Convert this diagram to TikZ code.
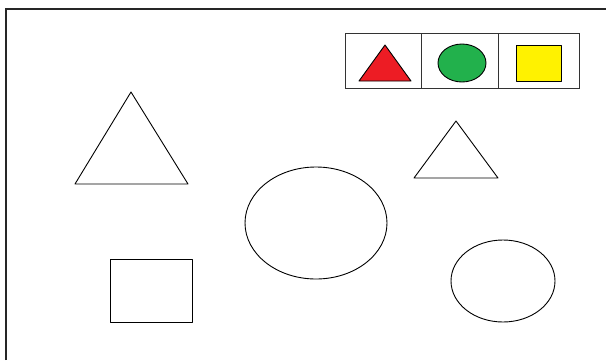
\documentclass[tikz,border=0pt]{standalone}
\definecolor{paintred}{RGB}{237,28,36}
\definecolor{paintgreen}{RGB}{34,177,76}
\definecolor{paintyellow}{RGB}{255,242,0}
\tikzset{
  outline/.style={draw=black, line width=0.9pt, line join=round},
  frameline/.style={draw=black!85, line width=2pt},
  toolbox/.style={draw=black!80, line width=0.9pt}
}
\begin{document}
\begin{tikzpicture}[x=1pt,y=-1pt]
\useasboundingbox (0,0) rectangle (606,360);
\fill[white] (0,0) rectangle (606,360);
% frame (left and top edges only)
\draw[frameline] (6,360) -- (6,9) -- (606,9);
% toolbar
\draw[toolbox] (345,33) rectangle (579,88);
\draw[toolbox] (421,33) -- (421,88);
\draw[toolbox] (498,33) -- (498,88);
\fill[paintred, outline] (385,45) -- (411,81) -- (359,81) -- cycle;
\fill[paintgreen, outline] (462,63) ellipse [x radius=24, y radius=19];
\fill[paintyellow, outline] (516,45) rectangle (561,81);
% canvas shapes
\draw[outline] (131,92) -- (188,184) -- (75,184) -- cycle;
\draw[outline] (456,121) -- (498,178) -- (414,178) -- cycle;
\draw[outline] (316,223) ellipse [x radius=71, y radius=56];
\draw[outline] (503,281) ellipse [x radius=52, y radius=41];
\draw[outline] (110,259) rectangle (192,322);
\end{tikzpicture}
\end{document}
